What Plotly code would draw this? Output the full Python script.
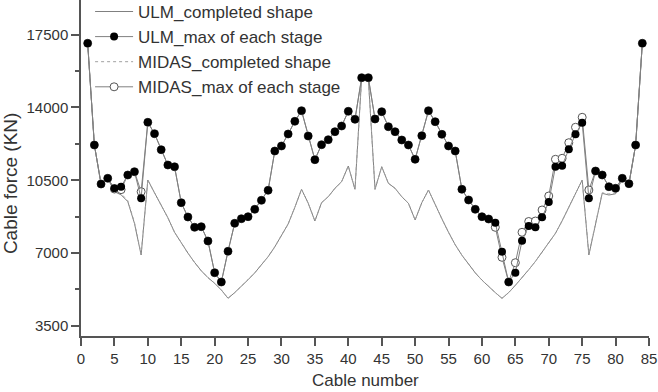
import plotly.graph_objects as go

cables = list(range(1, 85))

ulm_max = [17087, 12197, 10322, 10596, 10115, 10192, 10755, 10913, 9634, 13288,
           12740, 11971, 11235, 11150, 9423, 8735, 8240, 8269, 7581, 6057,
           5610, 7086, 8432, 8653, 8750, 9105, 9538, 10019, 11908, 12149,
           12726, 13336, 13846, 12630, 11490, 12211, 12452, 12837, 13110, 13817,
           13432, 15433, 15433, 13447, 13798, 13077, 12837, 12437, 12197, 11509,
           12644, 13846, 13317, 12711, 12149, 11908, 10067, 9553, 9105, 8750,
           8639, 8461, 7067, 5610, 6057, 7596, 8303, 8240, 8721, 9457,
           11153, 11201, 11990, 12711, 13269, 9634, 10947, 10755, 10192, 10115,
           10596, 10336, 12197, 17087]

midas_max = [17087, 12197, 10322, 10596, 10080, 10050, 10755, 10913, 9951, 13288,
             12740, 11971, 11235, 11150, 9423, 8735, 8240, 8269, 7581, 6057,
             5610, 7086, 8432, 8653, 8750, 9105, 9538, 10019, 11908, 12149,
             12726, 13336, 13846, 12630, 11490, 12211, 12452, 12837, 13110, 13817,
             13432, 15433, 15433, 13447, 13798, 13077, 12837, 12437, 12197, 11509,
             12644, 13846, 13317, 12711, 12149, 11908, 10067, 9553, 9105, 8750,
             8639, 8240, 6797, 5610, 6537, 7999, 8519, 8543, 9072, 9745,
             11509, 11557, 12307, 13048, 13528, 10033, 10947, 10755, 10192, 10115,
             10596, 10336, 12197, 17087]

ulm_shape = [17087, 12197, 10322, 10596, 9950, 9800, 9480, 8430, 6908, 10514,
             9900, 9300, 8700, 8000, 7470, 7000, 6550, 6150, 5820, 5547,
             5225, 4826, 5100, 5400, 5720, 6050, 6420, 6826, 7300, 7850,
             8400, 9200, 10067, 9400, 8543, 9423, 9711, 10115, 10432, 11187,
             10067, 15433, 15403, 10067, 11153, 10355, 10115, 9711, 9393, 8591,
             9423, 10033, 9300, 8650, 8000, 7400, 6900, 6450, 6050, 5700,
             5380, 5100, 4826, 5100, 5450, 5800, 6200, 6600, 7050, 7500,
             7950, 8550, 9200, 9850, 10514, 6908, 8350, 9873, 9793, 9850,
             10596, 10336, 12197, 17087]

midas_shape = [17087, 12197, 10322, 10596, 10020, 9860, 9520, 8470, 6950, 10514,
               9900, 9300, 8700, 8000, 7470, 7000, 6550, 6150, 5820, 5547,
               5225, 4826, 5100, 5400, 5720, 6050, 6420, 6826, 7300, 7850,
               8400, 9200, 10067, 9400, 8543, 9423, 9711, 10115, 10432, 11187,
               10067, 15433, 15403, 10067, 11153, 10355, 10115, 9711, 9393, 8591,
               9423, 10033, 9300, 8650, 8000, 7400, 6900, 6450, 6050, 5700,
               5380, 5100, 4826, 5100, 5450, 5800, 6200, 6600, 7050, 7500,
               7950, 8550, 9200, 9850, 10514, 6950, 8400, 9900, 9840, 9900,
               10596, 10336, 12197, 17087]

x_ticks = [0, 5, 10, 15, 20, 25, 30, 35, 40, 45, 50, 55, 60, 65, 70, 75, 80, 85]
y_ticks = [3500, 7000, 10500, 14000, 17500]

GRAY = "#808080"
FONT = "Liberation Sans, Arial, sans-serif"

fig = go.Figure()
fig.add_trace(go.Scatter(x=cables, y=ulm_shape, mode="lines", name="ULM_completed shape",
                         line=dict(color=GRAY, width=1), legendrank=1))
fig.add_trace(go.Scatter(x=cables, y=midas_shape, mode="lines", name="MIDAS_completed shape",
                         line=dict(color="#a0a0a0", width=1, dash="dot"), legendrank=3))
fig.add_trace(go.Scatter(x=cables, y=midas_max, mode="lines+markers", name="MIDAS_max of each stage",
                         line=dict(color=GRAY, width=1),
                         marker=dict(symbol="circle", size=8, color="white",
                                     line=dict(width=1, color="#555555")),
                         legendrank=4))
fig.add_trace(go.Scatter(x=cables, y=ulm_max, mode="lines+markers", name="ULM_max of each stage",
                         line=dict(color=GRAY, width=1),
                         marker=dict(symbol="circle", size=8, color="#000000"),
                         legendrank=2))

fig.update_layout(
    width=658, height=392,
    margin=dict(l=81, r=9, t=0, b=56, autoexpand=False),
    paper_bgcolor="white", plot_bgcolor="white",
    font=dict(family=FONT, color="#333333", size=15),
    showlegend=True,
    legend=dict(x=0.016, y=1.018, xanchor="left", yanchor="top",
                bgcolor="rgba(0,0,0,0)", font=dict(size=17, color="#333333"),
                tracegroupgap=0, itemwidth=38),
    annotations=[
        dict(text="Cable number", xref="paper", yref="paper", x=0.5, y=-0.1667,
             xanchor="center", yanchor="bottom", showarrow=False,
             font=dict(size=17, color="#333333")),
        dict(text="Cable force (KN)", xref="paper", yref="paper", x=-0.125, y=0.455,
             xanchor="center", yanchor="middle", textangle=-90, showarrow=False,
             font=dict(size=19, color="#333333")),
    ],
)
fig.update_xaxes(range=[0, 85], tickvals=x_ticks, ticktext=[str(v) for v in x_ticks],
                 automargin=False,
                 showgrid=False, zeroline=False, showline=True, linecolor="#555555", linewidth=1.5,
                 ticks="outside", ticklen=8, tickcolor="#555555", tickwidth=1.5,
                 tickfont=dict(size=15, color="#333333"))
fig.update_yaxes(range=[3014, 19168], tickvals=y_ticks, ticktext=[str(v) for v in y_ticks],
                 automargin=False,
                 showgrid=False, zeroline=False, showline=True, linecolor="#555555", linewidth=1.5,
                 ticks="outside", ticklen=8, tickcolor="#555555", tickwidth=1.5,
                 tickfont=dict(size=15, color="#333333"),
                 minor=dict(ticks="outside", ticklen=4, tickcolor="#555555", tickwidth=1.5,
                            tickvals=[5250, 8750, 12250, 15750]))

fig.write_html("out.html")
